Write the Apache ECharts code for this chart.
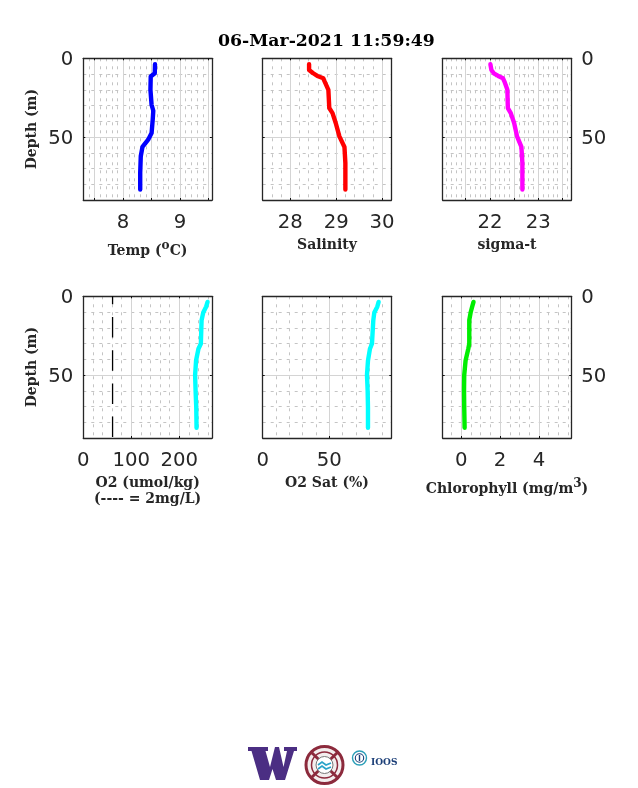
<!DOCTYPE html>
<html><head><meta charset="utf-8">
<style>html,body{margin:0;padding:0;background:#fff}#c{width:638px;height:788px}</style>
<script src="https://cdn.jsdelivr.net/npm/echarts@6/dist/echarts.min.js"></script>
</head><body><div id="c"></div>
<script>
const titleText = '06-Mar-2021 11:59:49';

const tempDepth = [3.8, 9.5, 11.6, 20, 29.5, 33.3, 39, 47.5, 51.7, 56.3, 62.2, 72.8, 83.3];
const tempVals  = [8.56, 8.556, 8.485, 8.48, 8.50, 8.53, 8.52, 8.50, 8.44, 8.34, 8.31, 8.30, 8.30];
const salDepth  = [3.8, 7.4, 9.5, 11.2, 12.7, 14.8, 20, 31.6, 34.8, 41.1, 49.6, 56.3, 66.5, 83.3];
const salVals   = [28.41, 28.41, 28.5, 28.59, 28.72, 28.75, 28.83, 28.85, 28.92, 28.99, 29.07, 29.18, 29.20, 29.20];
const sigVals   = [22.01, 22.03, 22.08, 22.17, 22.27, 22.30, 22.36, 22.37, 22.43, 22.50, 22.56, 22.65, 22.67, 22.67];
const oxyDepth  = [3.6, 6.6, 10.3, 15.2, 30.1, 33.3, 40.8, 50, 60, 70.7, 83.5];
const oxyVals   = [259, 256, 250, 246.5, 245, 240, 235, 233, 234, 235.4, 236];
const satVals   = [87, 86, 83.75, 83, 82, 80.5, 79, 78.25, 78.75, 79, 79];
const chlVals   = [0.63, 0.56, 0.48, 0.41, 0.41, 0.36, 0.22, 0.15, 0.14, 0.15, 0.17];
const refO2Vals = [61, 61];
const refO2Depth = [0, 90];

const depthLabels = [0, 50];
const depthMajor = [50];
const depthMinor = [10, 20, 30, 40, 60, 70, 80];
const tempLabels = [8, 9];
const tempMajor = [7.5, 8, 8.5, 9, 9.5];
const salLabels = [28, 29, 30];
const salMajor = [28, 29, 30];
const sigLabels = [22, 23];
const sigMajor = [21.5, 22, 22.5, 23, 23.5];
const oxyLabels = [0, 100, 200];
const oxyMajor = [100, 200];
const satLabels = [0, 50];
const satMajor = [50];
const chlLabels = [0, 2, 4];
const chlMajor = [0, 2, 4];

const TXT = '#262626';
const SERIF = '"DejaVu Serif", serif';
const SANS = '"DejaVu Sans", sans-serif';
const nameStyle = {fontFamily: SERIF, fontWeight: 'bold', fontSize: 14, color: TXT};
const nameRich = {
  a: {fontFamily: SERIF, fontWeight: 'bold', fontSize: 14, color: TXT, lineHeight: 22},
  b: {fontFamily: SERIF, fontWeight: 'bold', fontSize: 14, color: TXT, lineHeight: 16.5},
  s: {fontFamily: SERIF, fontWeight: 'bold', fontSize: 12, color: TXT, lineHeight: 9, verticalAlign: 'top'}
};

const panels = [
  {l: 83.3,  t: 58.3,  min: 7.3,    max: 9.56,  step: 0.1, major: tempMajor, labels: tempLabels, name: '{a|Temp (}{s|o}{a|C)}', gap: 40, xs: tempVals, ys: tempDepth, color: '#0000ff', yLabel: 'left'},
  {l: 262.7, t: 58.3,  min: 27.4,   max: 30.2,  step: 0.2, major: salMajor,  labels: salLabels,  name: '{b|Salinity}', gap: 37, xs: salVals, ys: salDepth, color: '#ff0000'},
  {l: 442.7, t: 58.3,  min: 21.025, max: 23.68, step: 0.1, major: sigMajor,  labels: sigLabels,  name: '{b|sigma-t}', gap: 37, xs: sigVals, ys: salDepth, color: '#ff00ff', yLabel: 'right'},
  {l: 83.3,  t: 296.3, min: 0,      max: 268,   step: 20,  major: oxyMajor,  labels: oxyLabels,  name: '{b|O2 (umol/kg)}\n{b|(---- = 2mg/L)}', gap: 37, xs: oxyVals, ys: oxyDepth, color: '#00ffff', yLabel: 'left'},
  {l: 262.7, t: 296.3, min: 0,      max: 96.5,  step: 10,  major: satMajor,  labels: satLabels,  name: '{b|O2 Sat (%)}', gap: 37, xs: satVals, ys: oxyDepth, color: '#00ffff'},
  {l: 442.7, t: 296.3, min: -0.96,  max: 5.67,  step: 0.5, major: chlMajor,  labels: chlLabels,  name: '{a|Chlorophyll (mg/m}{s|3}{a|)}', gap: 40, xs: chlVals, ys: oxyDepth, color: '#00ee00', yLabel: 'right'}
];

function minorPositions(p) {
  const out = [];
  const first = Math.ceil(p.min / p.step);
  for (let k = first; k * p.step < p.max; k++) {
    const v = +(k * p.step).toFixed(4);
    if (!p.major.some(m => Math.abs(m - v) < 1e-6) && v > p.min) out.push(v);
  }
  return out;
}

const W = 128.6, H = 141.7;
const grids = [], xAxes = [], yAxes = [], series = [];
const frame = {show: true, onZero: false, lineStyle: {color: TXT, width: 1.3}};
const tickStyle = {show: true, inside: true, length: 2, lineStyle: {color: '#111', width: 1}};
const major = {show: true, lineStyle: {color: '#d4d4d4', width: 1, type: 'solid'}};
const minor = {show: true, lineStyle: {color: '#c4c4c4', width: 1, type: [3, 5]}};

panels.forEach((p, i) => {
  grids.push({left: p.l, top: p.t, width: W, height: H, show: false});
  const xb = {gridIndex: i, type: 'value', min: p.min, max: p.max};
  xAxes.push(Object.assign({}, xb, {
    position: 'bottom', name: p.name, nameLocation: 'middle', nameGap: p.gap,
    nameTextStyle: Object.assign({}, nameStyle, {rich: nameRich}),
    axisLine: frame, axisTick: Object.assign({}, tickStyle, {customValues: p.major}), splitLine: major,
    axisLabel: {show: true, customValues: p.labels, hideOverlap: false, margin: 13, fontFamily: SANS, fontSize: 19.7, color: TXT, formatter: v => String(Math.round(v))}
  }));
  xAxes.push(Object.assign({}, xb, {position: 'top', axisLine: frame, axisTick: Object.assign({}, tickStyle, {customValues: p.major}), axisLabel: {show: false}, splitLine: {show: false}}));
  xAxes.push(Object.assign({}, xb, {position: 'bottom', axisLine: {show: false}, axisTick: {show: false, customValues: minorPositions(p)}, axisLabel: {show: false}, splitLine: minor}));

  const yb = {gridIndex: i, type: 'value', inverse: true, min: 0, max: 90};
  const labelSide = p.yLabel === 'right' ? 'right' : 'left';
  const otherSide = labelSide === 'right' ? 'left' : 'right';
  yAxes.push(Object.assign({}, yb, {
    position: labelSide,
    name: p.yLabel === 'left' ? 'Depth (m)' : '', nameLocation: 'middle', nameGap: 44,
    nameTextStyle: nameStyle,
    axisLine: frame, axisTick: Object.assign({}, tickStyle, {customValues: depthMajor}), splitLine: major,
    axisLabel: {show: !!p.yLabel, customValues: depthLabels, margin: 10, verticalAlign: 'top', lineHeight: 3, fontFamily: SANS, fontSize: 19.7, color: TXT, formatter: v => String(Math.round(v))}
  }));
  yAxes.push(Object.assign({}, yb, {position: otherSide, axisLine: frame, axisTick: Object.assign({}, tickStyle, {customValues: depthMajor}), axisLabel: {show: false}, splitLine: {show: false}}));
  yAxes.push(Object.assign({}, yb, {position: labelSide, axisLine: {show: false}, axisTick: {show: false, customValues: depthMinor}, axisLabel: {show: false}, splitLine: minor}));

  series.push({type: 'line', xAxisIndex: i * 3, yAxisIndex: i * 3, showSymbol: false, symbol: 'none', silent: true,
    data: p.xs.map((x, k) => [x, p.ys[k]]),
    lineStyle: {color: p.color, width: 4.4, cap: 'round', join: 'round'}, z: 5});
});
series.push({type: 'line', xAxisIndex: 9, yAxisIndex: 9, showSymbol: false, symbol: 'none', silent: true,
  data: refO2Vals.map((x, k) => [x, refO2Depth[k]]),
  lineStyle: {color: '#000', width: 1.3, type: [20.5, 12.7], dashOffset: 12.5}, z: 4});

const NAVY = '#1c3f78', RED = '#8c2a3c';
const graphic = [
  {type: 'polygon', silent: true, shape: {points: [[248,747],[268,747],[268,751],[265.5,751],[270,767],[275,747],[279,747],[283.5,767],[287,751],[284,751],[284,747],[297,747],[297,751],[294,751],[285,780],[276,780],[272.5,769],[269,780],[260,780],[251.5,751],[248,751]]}, style: {fill: '#4b2e83'}},
  {type: 'circle', silent: true, shape: {cx: 324.5, cy: 765, r: 18.5}, style: {fill: '#f3eeee', stroke: RED, lineWidth: 3}},
  {type: 'line', silent: true, shape: {x1: 311, y1: 752, x2: 338, y2: 778}, style: {stroke: RED, lineWidth: 3}},
  {type: 'line', silent: true, shape: {x1: 338, y1: 752, x2: 311, y2: 778}, style: {stroke: RED, lineWidth: 3}},
  {type: 'circle', silent: true, shape: {cx: 324.5, cy: 765, r: 13}, style: {fill: 'none', stroke: RED, lineWidth: 1.5}},
  {type: 'circle', silent: true, shape: {cx: 324.5, cy: 765, r: 8.5}, style: {fill: '#fff', stroke: '#777', lineWidth: 1}},
  {type: 'polyline', silent: true, shape: {points: [[318,765],[322,762],[326,765],[331,763]]}, style: {fill: 'none', stroke: '#2aa3c9', lineWidth: 1.8}},
  {type: 'polyline', silent: true, shape: {points: [[318,769],[322,766],[326,769],[331,767]]}, style: {fill: 'none', stroke: '#2aa3c9', lineWidth: 1.8}},
  {type: 'circle', silent: true, shape: {cx: 359.5, cy: 758, r: 7}, style: {fill: '#fff', stroke: '#2b9fb8', lineWidth: 1.4}},
  {type: 'circle', silent: true, shape: {cx: 359.5, cy: 758, r: 4.2}, style: {fill: '#fff', stroke: NAVY, lineWidth: 1.1}},
  {type: 'line', silent: true, shape: {x1: 359.5, y1: 755, x2: 359.5, y2: 761}, style: {stroke: NAVY, lineWidth: 1.4}},
  {type: 'text', silent: true, style: {x: 371, y: 758, text: 'IOOS', fill: NAVY, font: 'bold 9px "DejaVu Serif", serif', textBaseline: 'middle', textAlign: 'left'}}
];

const chart = echarts.init(document.getElementById('c'), null, {renderer: 'canvas', width: 638, height: 788});
chart.setOption({
  animation: false,
  backgroundColor: '#fff',
  title: {text: titleText, left: 213, top: 28, textStyle: {fontFamily: SERIF, fontWeight: 'bold', fontSize: 17.3, color: '#000'}},
  grid: grids, xAxis: xAxes, yAxis: yAxes, series: series, graphic: graphic
});
</script></body></html>
